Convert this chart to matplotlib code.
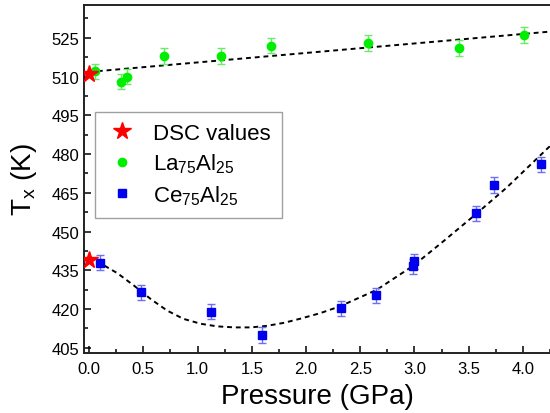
import matplotlib
matplotlib.use("Agg")
import matplotlib.pyplot as plt
from matplotlib.ticker import MultipleLocator

plt.rcParams['font.family'] = ['Liberation Sans', 'DejaVu Sans']
plt.rcParams['mathtext.fontset'] = 'custom'
plt.rcParams['mathtext.rm'] = 'Liberation Sans'
plt.rcParams['mathtext.it'] = 'Liberation Sans'
plt.rcParams['mathtext.default'] = 'regular'

# DSC reference values
dsc_p = [0.0, 0.0]
dsc_t = [511, 439]

# La75Al25
la_p = [0.055, 0.29, 0.35, 0.69, 1.22, 1.68, 2.57, 3.41, 4.01]
la_t = [512, 508, 510, 518, 518, 522, 523, 521, 526]
la_err = [3, 3, 3, 3, 3, 3, 3, 3, 3]
la_fit_p = [0.0, 4.25]
la_fit_t = [511.8, 527.4]

# Ce75Al25
ce_p = [0.10, 0.48, 1.12, 1.59, 2.32, 2.65, 2.99, 3.00, 3.57, 3.73, 4.17]
ce_t = [438, 426.5, 419, 410, 420.3, 425.3, 436.5, 438.5, 457, 468, 476]
ce_err = [3, 3, 3, 3, 3, 3, 3, 3, 3, 3, 3]
ce_fit_p = [0.0, 0.10, 0.26, 0.41, 0.57, 0.72, 0.87, 1.03, 1.18, 1.34, 1.49,
            1.64, 1.80, 1.95, 2.13, 2.31, 2.65, 2.99, 3.26, 3.56, 3.85, 4.25]
ce_fit_t = [440.0, 437.8, 433.9, 429.2, 423.8, 419.4, 416.2, 414.3, 413.3, 412.9, 412.9,
            413.5, 414.7, 416.3, 418.4, 421.0, 427.4, 436.8, 446.0, 456.5, 467.0, 483.1]

fig = plt.figure(figsize=(5.5, 4.14), dpi=100)
ax = fig.add_axes([0.153, 0.145, 0.847, 0.8405])

ax.plot(la_fit_p, la_fit_t, color='black', ls=(0, (2.5, 2)), lw=1.4, zorder=2)
ax.plot(ce_fit_p, ce_fit_t, color='black', ls=(0, (2.5, 2)), lw=1.4, zorder=2)

ax.errorbar(la_p, la_t, yerr=la_err, fmt='none', ecolor='#66ee66', elinewidth=1,
            capsize=3, capthick=1, zorder=3)
ax.errorbar(ce_p, ce_t, yerr=ce_err, fmt='none', ecolor='#6f6ff5', elinewidth=1,
            capsize=3, capthick=1, zorder=3)

ax.plot(dsc_p, dsc_t, ls='none', marker='*', ms=13, color='red', mec='red',
        label='DSC values', zorder=6)
ax.plot(la_p, la_t, ls='none', marker='o', ms=6, color='#00ee00', mec='#00ee00',
        label='La$_{75}$Al$_{25}$', zorder=5)
ax.plot(ce_p, ce_t, ls='none', marker='s', ms=5.5, color='#0000ee', mec='#0000ee',
        label='Ce$_{75}$Al$_{25}$', zorder=5)

ax.set_xlim(-0.046, 4.25)
ax.set_ylim(403.0, 537.7)
ax.xaxis.set_major_locator(MultipleLocator(0.5))
ax.xaxis.set_minor_locator(MultipleLocator(0.25))
ax.yaxis.set_major_locator(MultipleLocator(15))
ax.yaxis.set_minor_locator(MultipleLocator(7.5))
ax.set_yticks([405, 420, 435, 450, 465, 480, 495, 510, 525])
ax.tick_params(which='both', direction='in', top=False, right=False, width=1.1,
               labelsize=12, colors='black')
ax.tick_params(which='major', length=5)
ax.tick_params(which='minor', length=3)
ax.tick_params(axis='x', which='major', pad=6)
ax.spines['right'].set_visible(False)
for s in ['left', 'bottom', 'top']:
    ax.spines[s].set_linewidth(1.4)
    ax.spines[s].set_color('#222222')

ax.set_xlabel('Pressure (GPa)', fontsize=20, labelpad=5)
ax.set_ylabel('T$_{x}$ (K)', fontsize=20, labelpad=9)

leg = ax.legend(loc='upper left', bbox_to_anchor=(0.024, 0.6925), borderaxespad=0,
                fontsize=16, frameon=True, fancybox=False, labelspacing=0.35,
                handletextpad=0.7, handlelength=1.4, borderpad=0.5)
leg.get_frame().set_edgecolor('#888888')
leg.get_frame().set_linewidth(1.0)

fig.savefig('out.png', dpi=100)
